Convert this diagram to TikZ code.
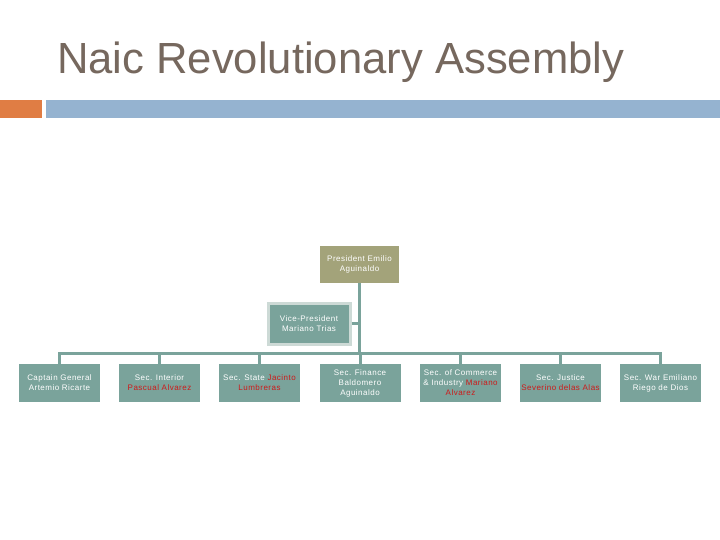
\documentclass[tikz,border=0pt]{standalone}
\usepackage{fontspec}
\setmainfont{Liberation Sans}
\newfontfamily\boxfont[LetterSpace=6]{Liberation Sans}
\definecolor{titlec}{RGB}{118,104,94}
\definecolor{orangebar}{RGB}{224,125,68}
\definecolor{bluebar}{RGB}{149,179,208}
\definecolor{olivebox}{RGB}{163,163,122}
\definecolor{tealbox}{RGB}{122,163,155}
\definecolor{vpborder}{RGB}{205,218,214}
\definecolor{redname}{RGB}{204,26,26}
\newcommand{\rn}[1]{\textcolor{redname}{#1}}
\tikzset{
  orgbox/.style={fill=tealbox, text=white, align=center, inner sep=0pt,
    minimum width=81pt, minimum height=38pt,
    font=\boxfont\fontsize{8}{10}\selectfont},
  presbox/.style={orgbox, fill=olivebox, minimum width=79pt, minimum height=37pt},
  vpbox/.style={orgbox, draw=vpborder, line width=3pt, minimum width=82pt, minimum height=41pt},
  link/.style={draw=tealbox, line width=3pt}
}
\begin{document}
\begin{tikzpicture}[x=1pt,y=-1pt]
\useasboundingbox (0,0) rectangle (720,540);
\fill[white] (0,0) rectangle (720,540);
\node[anchor=base west, text=titlec, font=\fontsize{43.6}{50}\selectfont, inner sep=0pt] (title) at (57,74) {Naic Revolutionary Assembly};
\fill[orangebar] (0,100) rectangle (42,118);
\fill[bluebar] (46,100) rectangle (720,118);

\node[presbox] (pres) at (359.5,264.5) {President Emilio\\Aguinaldo};
\node[vpbox] (vp) at (309,323.5) {Vice-President\\Mariano Trias};

\node[orgbox] (b1) at (59.5,383) {Captain General\\Artemio Ricarte};
\node[orgbox] (b2) at (159.5,383) {Sec. Interior\\\rn{Pascual Alvarez}};
\node[orgbox] (b3) at (259.5,383) {Sec. State \rn{Jacinto}\\\rn{Lumbreras}};
\node[orgbox] (b4) at (360,383) {Sec. Finance\\Baldomero\\Aguinaldo};
\node[orgbox] (b5) at (460.5,383) {Sec. of Commerce\\\& Industry \rn{Mariano}\\\rn{Alvarez}};
\node[orgbox] (b6) at (560.5,383) {Sec. Justice\\\rn{Severino delas Alas}};
\node[orgbox] (b7) at (660.5,383) {Sec. War Emiliano\\Riego de Dios};

\coordinate (busL) at (58,353);
\coordinate (busR) at (662,353);
\draw[link] (busL) -- (busR);
\draw[link] (pres.south) -- (pres.south |- busL);
\draw[link] (vp.east) -- (vp.east -| pres.south);
\foreach \b in {b1,b2,b3,b4,b5,b6,b7}{
  \draw[link] (\b.north |- busL) -- (\b.north);
}
\end{tikzpicture}
\end{document}
